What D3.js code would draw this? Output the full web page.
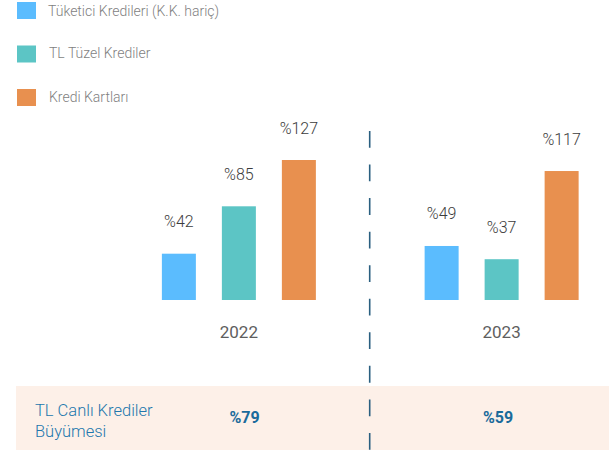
<!DOCTYPE html>
<html>
<head>
<meta charset="utf-8">
<script src="https://cdn.jsdelivr.net/npm/d3@7"></script>
<style>
  html, body { margin: 0; padding: 0; background: #fff; }
  svg { display: block; font-family: Roboto, "Open Sans", sans-serif; }
</style>
</head>
<body>
<svg id="chart" width="609" height="450"></svg>
<script>
// Loan growth by type, per year
const years = ["2022", "2023"];
const series = ["Tüketici Kredileri (K.K. hariç)", "TL Tüzel Krediler", "Kredi Kartları"];
const colors = ["#5bbcfe", "#5cc5c5", "#e8904f"];
const values2022 = [42, 85, 127];
const values2023 = [49, 37, 117];
const totalGrowth = [79, 59];
const totalLabel = ["TL Canlı Krediler", "Büyümesi"];

const valuesByYear = [values2022, values2023];
const svg = d3.select("#chart");

// Legend
const legend = svg.append("g");
series.forEach((name, i) => {
  const g = legend.append("g").attr("transform", `translate(17, ${2 + i * 43.5})`);
  g.append("rect").attr("width", 19).attr("height", 17).attr("fill", colors[i]);
  g.append("text").attr("x", i === 0 ? 31 : 32).attr("y", i === 0 ? 14 : 12.5)
    .attr("font-size", 14).attr("font-weight", 300).attr("fill", "#7f7f7f").text(name);
});

// Scales
const groupWidth = 180;
const x0 = d3.scaleBand().domain(years).range([107.5, 633]);
const x1 = d3.scaleBand().domain(d3.range(series.length)).range([0, groupWidth])
  .paddingInner(26 / 60).paddingOuter(13 / 60);
const y = d3.scaleLinear().domain([0, 127]).range([300, 160]);
const xSummary = d3.scalePoint().domain(years).range([244.5, 498]);

// Bottom summary band
svg.append("rect").attr("x", 16).attr("y", 386).attr("width", 593).attr("height", 64)
  .attr("fill", "#fdf0e8");

const groups = svg.selectAll("g.year").data(years).join("g")
  .attr("class", "year")
  .attr("transform", d => `translate(${x0(d) + (x0.bandwidth() - groupWidth) / 2}, 0)`);

groups.each(function (yr, yi) {
  const g = d3.select(this);
  const vals = valuesByYear[yi];
  g.selectAll("rect").data(vals).join("rect")
    .attr("x", (d, i) => x1(i))
    .attr("y", d => y(d))
    .attr("width", x1.bandwidth())
    .attr("height", d => y(0) - y(d))
    .attr("fill", (d, i) => colors[i]);
  g.selectAll("text.val").data(vals).join("text")
    .attr("class", "val")
    .attr("x", (d, i) => x1(i) + x1.bandwidth() / 2)
    .attr("y", d => y(d) - 26.5)
    .attr("text-anchor", "middle")
    .attr("font-size", 16).attr("font-weight", 300).attr("fill", "#3c3c3c")
    .text(d => "%" + d);
  g.append("text")
    .attr("x", groupWidth / 2).attr("y", 338)
    .attr("text-anchor", "middle")
    .attr("font-size", 17).attr("font-weight", 400).attr("fill", "#5e5e5e")
    .text(yr);
});

// Summary row: label and totals
svg.append("text").attr("x", 35).attr("y", 416)
  .attr("font-size", 16.5).attr("font-weight", 300).attr("fill", "#2277ad")
  .selectAll("tspan").data(totalLabel).join("tspan")
  .attr("x", 35).attr("dy", (d, i) => i === 0 ? 0 : 21)
  .text(d => d);

svg.selectAll("text.total").data(totalGrowth).join("text")
  .attr("class", "total")
  .attr("x", (d, i) => xSummary(years[i]))
  .attr("y", 422.5)
  .attr("text-anchor", "middle")
  .attr("font-size", 16).attr("font-weight", 700).attr("fill", "#1a6b9b")
  .text(d => "%" + d);

// Divider between years
svg.append("line")
  .attr("x1", 369.7).attr("x2", 369.7).attr("y1", 131).attr("y2", 450)
  .attr("stroke", "#2a5f80").attr("stroke-width", 1.6)
  .attr("stroke-dasharray", "16.8 16.75");
</script>
</body>
</html>
